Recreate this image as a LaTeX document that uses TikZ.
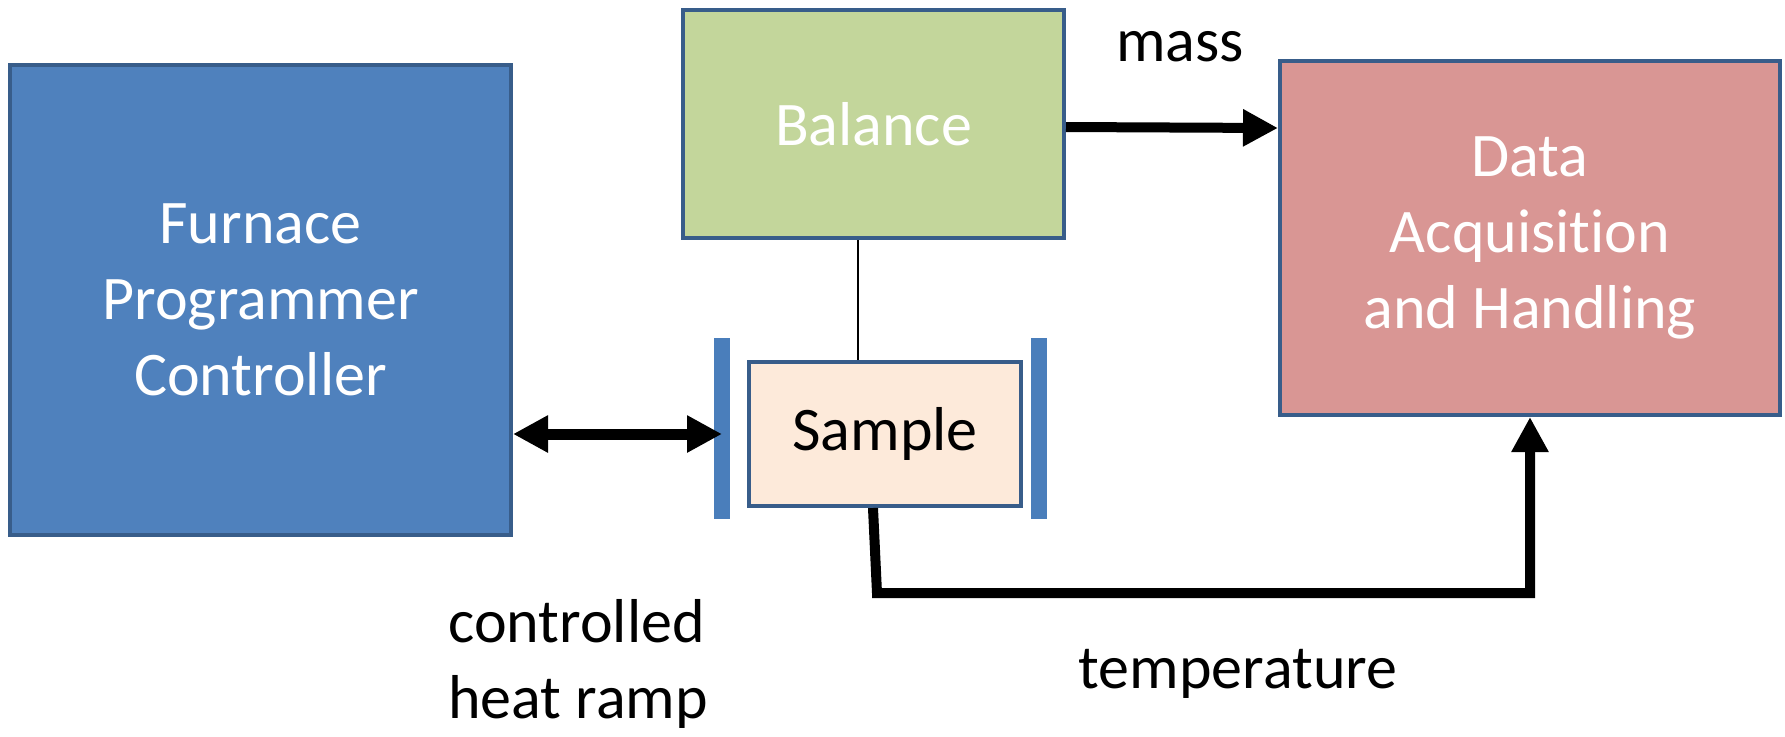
\documentclass[tikz,border=0pt]{standalone}
\usepackage{fontspec}
\setmainfont{Carlito}[Ligatures=NoCommon]
\usetikzlibrary{arrows.meta,calc}
\definecolor{bordc}{HTML}{385D8A}
\definecolor{furnc}{HTML}{4F81BD}
\definecolor{balc}{HTML}{C3D69B}
\definecolor{datc}{HTML}{D99694}
\definecolor{samc}{HTML}{FDEADA}
\definecolor{barc}{HTML}{4A7EBB}
\begin{document}
\begin{tikzpicture}[x=0.5pt,y=-0.5pt,
  boxstyle/.style={draw=bordc,line width=2pt,rectangle,align=center,inner sep=0pt,
    font=\fontsize{31}{38}\selectfont},
  barstyle/.style={fill=barc,draw=none,rectangle,inner sep=0pt,minimum width=8pt,minimum height=90.5pt},
  lbl/.style={font=\fontsize{31}{38}\selectfont,inner sep=0pt},
  thickarrow/.style={line width=5pt,-{Triangle[length=17.5pt,width=17.5pt]}},
  dblarrow/.style={line width=5.5pt,{Triangle[length=17.5pt,width=17.5pt]}-{Triangle[length=17.5pt,width=17.5pt]}}]
\useasboundingbox (0,0) rectangle (1785,736);
\node[boxstyle,fill=furnc,text=white,minimum width=250.5pt,minimum height=235pt] (fur) at (260.5,300) {Furnace\\Programmer\\Controller};
\node[boxstyle,fill=balc,text=white,minimum width=190.5pt,minimum height=114pt] (bal) at (873.5,124) {Balance};
\node[boxstyle,fill=datc,text=white,minimum width=250pt,minimum height=177pt] (dat) at (1530,238) {Data\\Acquisition\\and Handling};
\node[boxstyle,fill=samc,text=black,minimum width=136pt,minimum height=72pt] (sam) at (885,434) {Sample};
\node[barstyle] (lbar) at (722,428.5) {};
\node[barstyle] (rbar) at (1039,428.5) {};
\node[lbl,anchor=base] (mass) at (1180,61) {mass};
\node[lbl,anchor=base] (temp) at (1238,688) {temperature};
\node[lbl,anchor=base west,align=left] (ramp) at (448,718) {controlled\\heat ramp};
\draw[line width=1pt] (bal.south -| 858,0) -- (sam.north -| 858,0);
\draw[thickarrow] (bal.east |- 0,127) -- (dat.west |- 0,128);
\draw[dblarrow] (fur.east |- 0,434) -- (lbar.center |- 0,434);
\coordinate (tcorner) at (877,593);
\draw[line width=5pt,-{Triangle[length=17.5pt,width=17.5pt]},line join=miter] ($(sam.south)+(-12,0)$) -- (tcorner) -| (dat.south);
\end{tikzpicture}
\end{document}
